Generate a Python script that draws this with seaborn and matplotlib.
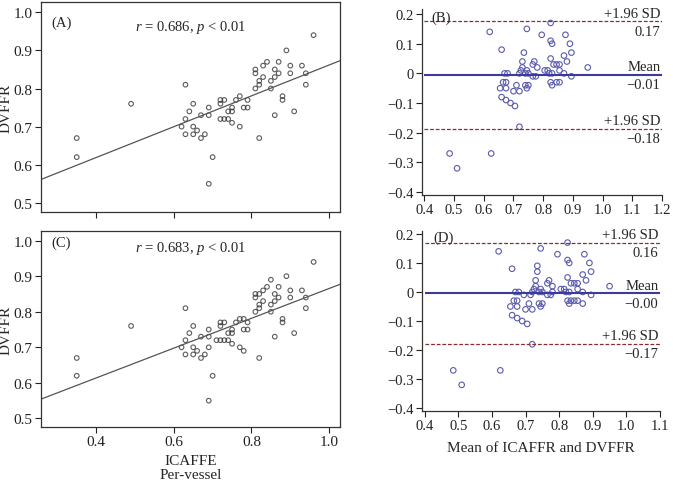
import matplotlib
matplotlib.use("Agg")
import matplotlib.pyplot as plt
import seaborn as sns
import numpy as np
import pandas as pd

sns.set_theme(style="white")
plt.rcParams['font.family'] = ['Liberation Serif', 'DejaVu Serif']
plt.rcParams['mathtext.fontset'] = 'custom'
plt.rcParams['mathtext.it'] = 'Liberation Serif:italic'
plt.rcParams['mathtext.rm'] = 'Liberation Serif'

# ---- Panel A data (ICAFFE vs DVFFR) ----
icaffe_a = [0.35, 0.35, 0.49, 0.62, 0.63, 0.63, 0.63, 0.64, 0.65, 0.65, 0.65, 0.66, 0.67, 0.67,
            0.68, 0.69, 0.69, 0.69, 0.70, 0.72, 0.72, 0.73, 0.72, 0.73, 0.74, 0.74, 0.75, 0.75,
            0.75, 0.76, 0.77, 0.77, 0.78, 0.79, 0.79, 0.81, 0.81, 0.81, 0.82, 0.82, 0.82, 0.83,
            0.83, 0.84, 0.85, 0.85, 0.86, 0.86, 0.86, 0.87, 0.87, 0.88, 0.88, 0.89, 0.90, 0.90,
            0.91, 0.93, 0.94, 0.94, 0.96]
dvffr_a = [0.67, 0.62, 0.76, 0.70, 0.81, 0.72, 0.68, 0.74, 0.76, 0.70, 0.68, 0.69, 0.73, 0.67,
           0.68, 0.75, 0.73, 0.55, 0.62, 0.76, 0.77, 0.77, 0.72, 0.72, 0.72, 0.74, 0.75, 0.74,
           0.71, 0.77, 0.78, 0.70, 0.75, 0.75, 0.77, 0.80, 0.85, 0.84, 0.82, 0.81, 0.67, 0.83,
           0.86, 0.87, 0.82, 0.80, 0.85, 0.83, 0.73, 0.87, 0.84, 0.78, 0.77, 0.90, 0.86, 0.84,
           0.74, 0.86, 0.84, 0.81, 0.94]

# ---- Panel B data (Bland-Altman for A) ----
ba_mean_b = [0.51, 0.485, 0.625, 0.66, 0.72, 0.675, 0.655, 0.69, 0.705, 0.675, 0.665, 0.675,
             0.70, 0.67, 0.68, 0.72, 0.71, 0.62, 0.66, 0.74, 0.745, 0.75, 0.72, 0.725, 0.73,
             0.74, 0.75, 0.745, 0.73, 0.765, 0.775, 0.735, 0.765, 0.77, 0.78, 0.805, 0.83,
             0.825, 0.82, 0.815, 0.745, 0.83, 0.845, 0.855, 0.835, 0.825, 0.855, 0.845, 0.795,
             0.87, 0.855, 0.83, 0.825, 0.895, 0.88, 0.87, 0.825, 0.895, 0.89, 0.875, 0.95]
ba_diff_b = [-0.32, -0.27, -0.27, -0.08, -0.18, -0.09, -0.05, -0.10, -0.11, -0.05, -0.03, -0.03,
             -0.06, 0.00, 0.00, -0.06, -0.04, 0.14, 0.08, -0.04, -0.05, -0.04, 0.00, 0.01, 0.02,
             0.00, 0.00, 0.01, 0.04, -0.01, -0.01, 0.07, 0.03, 0.04, 0.02, 0.01, -0.04,
             -0.03, 0.00, 0.01, 0.15, 0.00, -0.03, -0.03, 0.03, 0.05, 0.01, 0.03, 0.13,
             0.00, 0.03, 0.10, 0.11, -0.01, 0.04, 0.06, 0.17, 0.07, 0.10, 0.13, 0.02]

# ---- Panel C data (ICAFFE vs DVFFR, per-vessel) ----
icaffe_c = [0.35, 0.35, 0.49, 0.62, 0.63, 0.63, 0.63, 0.64, 0.65, 0.65, 0.65, 0.66, 0.67, 0.67,
            0.68, 0.69, 0.69, 0.69, 0.69, 0.70, 0.71, 0.72, 0.73, 0.74, 0.72, 0.73, 0.72, 0.74,
            0.75, 0.75, 0.75, 0.76, 0.77, 0.78, 0.77, 0.78, 0.78, 0.79, 0.79, 0.81, 0.81, 0.81,
            0.82, 0.82, 0.82, 0.82, 0.83, 0.83, 0.84, 0.85, 0.85, 0.85, 0.86, 0.86, 0.86, 0.87,
            0.87, 0.88, 0.88, 0.89, 0.90, 0.90, 0.91, 0.93, 0.94, 0.94, 0.96]
dvffr_c = [0.67, 0.62, 0.76, 0.70, 0.81, 0.72, 0.68, 0.74, 0.76, 0.70, 0.68, 0.69, 0.73, 0.67,
           0.68, 0.75, 0.73, 0.70, 0.55, 0.62, 0.72, 0.72, 0.72, 0.72, 0.77, 0.77, 0.76, 0.74,
           0.75, 0.74, 0.71, 0.77, 0.78, 0.78, 0.70, 0.69, 0.75, 0.75, 0.77, 0.80, 0.85, 0.84,
           0.85, 0.82, 0.81, 0.67, 0.83, 0.86, 0.87, 0.89, 0.82, 0.80, 0.85, 0.83, 0.73, 0.87,
           0.84, 0.78, 0.77, 0.90, 0.86, 0.84, 0.74, 0.86, 0.84, 0.81, 0.94]

# ---- Panel D data (Bland-Altman for C) ----
ba_mean_d = [0.51, 0.485, 0.625, 0.66, 0.72, 0.675, 0.655, 0.69, 0.705, 0.675, 0.665, 0.675,
             0.70, 0.67, 0.68, 0.72, 0.71, 0.695, 0.62, 0.66, 0.715, 0.72, 0.725, 0.73, 0.745,
             0.75, 0.74, 0.74, 0.75, 0.745, 0.73, 0.765, 0.775, 0.78, 0.735, 0.735, 0.765,
             0.77, 0.78, 0.805, 0.83, 0.825, 0.835, 0.82, 0.815, 0.745, 0.83, 0.845, 0.855,
             0.87, 0.835, 0.825, 0.855, 0.845, 0.795, 0.87, 0.855, 0.83, 0.825, 0.895, 0.88,
             0.87, 0.825, 0.895, 0.89, 0.875, 0.95]
ba_diff_d = [-0.32, -0.27, -0.27, -0.08, -0.18, -0.09, -0.05, -0.10, -0.11, -0.05, -0.03, -0.03,
             -0.06, 0.00, 0.00, -0.06, -0.04, -0.01, 0.14, 0.08, -0.01, 0.00, 0.01, 0.02, -0.05,
             -0.04, -0.04, 0.00, 0.00, 0.01, 0.04, -0.01, -0.01, 0.00, 0.07, 0.09, 0.03,
             0.04, 0.02, 0.01, -0.04, -0.03, -0.03, 0.00, 0.01, 0.15, 0.00, -0.03, -0.03,
             -0.04, 0.03, 0.05, 0.01, 0.03, 0.13, 0.00, 0.03, 0.10, 0.11, -0.01, 0.04,
             0.06, 0.17, 0.07, 0.10, 0.13, 0.02]

corr_texts = ["0.686", "0.683"]
ba_labels_b = ["0.17", "\u22120.01", "\u22120.18"]
ba_labels_d = ["0.16", "\u22120.00", "\u22120.17"]

fig = plt.figure(figsize=(6.73, 4.81), dpi=100)
W, H = 673, 481
def rect(l, t, r, b):
    return [l / W, 1 - b / H, (r - l) / W, (b - t) / H]

axA = fig.add_axes(rect(41, 3, 340, 213))
axC = fig.add_axes(rect(41, 232, 340, 428))
axB = fig.add_axes(rect(422, 10, 662, 196))
axD = fig.add_axes(rect(422, 232, 660, 412))

line_kw = dict(color="#555555", lw=0.9)
for ax, xs, ys, lab, rtxt, show_x, lab_y, r_y in [
        (axA, icaffe_a, dvffr_a, "(A)", corr_texts[0], False, 0.935, 0.925),
        (axC, icaffe_c, dvffr_c, "(C)", corr_texts[1], True, 0.975, 0.96)]:
    df = pd.DataFrame({"ICAFFE": xs, "DVFFR": ys})
    ax.set_xlim(0.258, 1.028)
    ax.set_ylim(0.476, 1.027)
    sns.regplot(data=df, x="ICAFFE", y="DVFFR", ax=ax, ci=None, truncate=False,
                scatter_kws=dict(s=11, facecolors="none", edgecolors="#333333", linewidths=0.8),
                line_kws=line_kw)
    ax.set_xlim(0.258, 1.028)
    ax.set_ylim(0.476, 1.027)
    ax.set_xticks([0.4, 0.6, 0.8, 1.0])
    ax.set_yticks([0.5, 0.6, 0.7, 0.8, 0.9, 1.0])
    ax.set_yticklabels(["0.5", "0.6", "0.7", "0.8", "0.9", "1.0"])
    if show_x:
        ax.set_xticklabels(["0.4", "0.6", "0.8", "1.0"])
        ax.set_xlabel("ICAFFE\nPer-vessel", fontsize=11, labelpad=4, linespacing=1.1)
    else:
        ax.set_xticklabels([])
        ax.set_xlabel("")
    ax.set_ylabel("DVFFR", fontsize=11)
    ax.yaxis.set_label_coords(-0.095, 0.5)
    ax.tick_params(axis="both", direction="out", length=4, width=0.8, labelsize=11,
                   colors="#222222", bottom=True, left=True, pad=2)
    for sp in ax.spines.values():
        sp.set_color("#333333")
        sp.set_linewidth(0.9)
    ax.text(0.035, lab_y, lab, transform=ax.transAxes, fontsize=10.5, va="top", ha="left")
    ax.text(0.5, r_y, r"$r$ = " + rtxt + r", $p$ < 0.01", transform=ax.transAxes,
            fontsize=10.5, va="top", ha="center")

for ax, mx, dy, lab, labels, xmax, xticks, ylo, yhi in [
        (axB, ba_mean_b, ba_diff_b, "(B)", ba_labels_b, 1.2,
         [0.4, 0.5, 0.6, 0.7, 0.8, 0.9, 1.0, 1.1, 1.2], -0.41, 0.217),
        (axD, ba_mean_d, ba_diff_d, "(D)", ba_labels_d, 1.1,
         [0.4, 0.5, 0.6, 0.7, 0.8, 0.9, 1.0, 1.1], -0.41, 0.21)]:
    df = pd.DataFrame({"mean": mx, "diff": dy})
    sns.scatterplot(data=df, x="mean", y="diff", ax=ax, s=16, facecolors="none",
                    edgecolor="#5a5aae", linewidth=0.8)
    d = np.asarray(dy)
    bias = d.mean()
    sd = d.std(ddof=1)
    up, lo = bias + 1.96 * sd, bias - 1.96 * sd
    ax.set_xlim(0.392, xmax)
    ax.set_ylim(ylo, yhi)
    ax.hlines([bias], 0.4, xmax, colors="#3b3b9e", lw=1.5)
    ax.hlines([up, lo], 0.4, xmax, colors="#8b2b2b", lw=0.9, linestyles=(0, (3, 1.5)))
    xt = xmax - 0.005
    fs = 10.5
    ax.text(xt, up + 0.005, "+1.96 SD", ha="right", va="bottom", fontsize=fs)
    ax.text(xt, up - 0.012, labels[0], ha="right", va="top", fontsize=fs)
    ax.text(xt, bias + 0.005, "Mean", ha="right", va="bottom", fontsize=fs)
    ax.text(xt, bias - 0.012, labels[1], ha="right", va="top", fontsize=fs)
    ax.text(xt, lo + 0.005, "+1.96 SD", ha="right", va="bottom", fontsize=fs)
    ax.text(xt, lo - 0.012, labels[2], ha="right", va="top", fontsize=fs)
    ax.text(0.425, 0.212, lab, ha="left", va="top", fontsize=10.5)
    ax.set_xticks(xticks)
    ax.set_xticklabels([f"{v:.1f}" for v in xticks])
    ax.set_yticks([-0.4, -0.3, -0.2, -0.1, 0.0, 0.1, 0.2])
    ax.set_yticklabels(["\u22120.4", "\u22120.3", "\u22120.2", "\u22120.1", "0", "0.1", "0.2"])
    ax.tick_params(axis="both", direction="out", length=4, width=0.8, labelsize=10.5,
                   colors="#222222", bottom=True, left=True, pad=2)
    sns.despine(ax=ax)
    for sp in ["left", "bottom"]:
        ax.spines[sp].set_color("#333333")
        ax.spines[sp].set_linewidth(0.9)
    ax.set_ylabel("")
    ax.set_xlabel("")

axD.set_xlabel("Mean of ICAFFR and DVFFR", fontsize=11, labelpad=6)

fig.savefig("out.png", dpi=100, facecolor="white")
